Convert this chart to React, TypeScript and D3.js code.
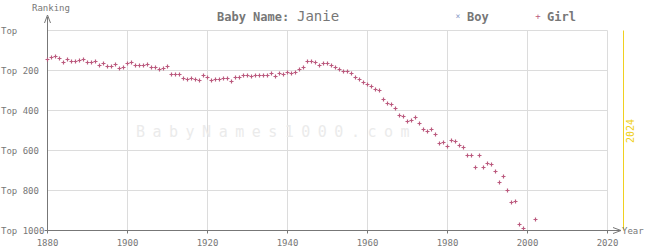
import React from "react";
import * as d3 from "d3";

const years: number[] = [
  1880, 1881, 1882, 1883, 1884, 1885, 1886, 1887, 1888, 1889,
  1890, 1891, 1892, 1893, 1894, 1895, 1896, 1897, 1898, 1899,
  1900, 1901, 1902, 1903, 1904, 1905, 1906, 1907, 1908, 1909,
  1910, 1911, 1912, 1913, 1914, 1915, 1916, 1917, 1918, 1919,
  1920, 1921, 1922, 1923, 1924, 1925, 1926, 1927, 1928, 1929,
  1930, 1931, 1932, 1933, 1934, 1935, 1936, 1937, 1938, 1939,
  1940, 1941, 1942, 1943, 1944, 1945, 1946, 1947, 1948, 1949,
  1950, 1951, 1952, 1953, 1954, 1955, 1956, 1957, 1958, 1959,
  1960, 1961, 1962, 1963, 1964, 1965, 1966, 1967, 1968, 1969,
  1970, 1971, 1972, 1973, 1974, 1975, 1976, 1977, 1978, 1979,
  1980, 1981, 1982, 1983, 1984, 1985, 1986, 1987, 1988, 1989,
  1990, 1991, 1992, 1993, 1994, 1995, 1996, 1997, 1998, 1999,
  2002,
];
const girlRanks: number[] = [
  145, 135, 130, 140, 160, 145, 155, 155, 150, 145,
  160, 160, 155, 175, 165, 180, 180, 170, 190, 185,
  165, 160, 175, 175, 175, 170, 185, 185, 195, 190,
  180, 220, 220, 220, 240, 245, 240, 245, 250, 225,
  235, 250, 245, 245, 240, 240, 255, 235, 235, 225,
  225, 230, 225, 225, 225, 225, 215, 230, 215, 220,
  210, 215, 210, 195, 185, 155, 155, 160, 175, 165,
  165, 175, 185, 195, 205, 205, 215, 235, 245, 260,
  270, 280, 295, 300, 345, 365, 370, 390, 425, 430,
  455, 450, 435, 465, 495, 505, 495, 520, 565, 560,
  580, 550, 555, 575, 585, 625, 625, 685, 625, 685,
  665, 670, 705, 760, 730, 800, 860, 855, 970, 990,
  945,
];
const xTicks: number[] = [1880, 1900, 1920, 1940, 1960, 1980, 2000, 2020];
const yTicks: number[] = [0, 200, 400, 600, 800, 1000];
const yTickLabels: string[] = ["Top", "Top 200", "Top 400", "Top 600", "Top 800", "Top 1000"];
const currentYear = 2024;

const MONO = "'DejaVu Sans Mono', 'Liberation Mono', monospace";
const GREY = "#777";
const GRID = "#dcdcdc";
const PINK = "#bb5a7e";

export default function App() {
  const x = d3.scaleLinear().domain([1880, 2020]).range([47.5, 607.5]);
  const y = d3.scaleLinear().domain([0, 1000]).range([30.5, 230.5]);
  const plus = (cx: number, cy: number, k: number) => (
    <path
      key={k}
      d={`M${cx - 2},${cy}H${cx + 2}M${cx},${cy - 2}V${cy + 2}`}
      stroke={PINK}
      strokeWidth={1.2}
      fill="none"
    />
  );
  return (
    <svg
      width={645}
      height={250}
      style={{ position: "absolute", left: 0, top: 0, background: "#fff" }}
      fontFamily={MONO}
    >
      {xTicks.slice(1).map((t) => (
        <line key={"gx" + t} x1={x(t)} x2={x(t)} y1={y(0)} y2={y(1000)} stroke={GRID} strokeWidth={1} />
      ))}
      {yTicks.slice(0, -1).map((t) => (
        <line key={"gy" + t} x1={x(1880)} x2={x(2020)} y1={y(t)} y2={y(t)} stroke={GRID} strokeWidth={1} />
      ))}
      <text x={136} y={137} fontSize={15} fill="#ebebeb" letterSpacing={7.5} fontFamily={MONO}>
        BabyNames1000.com
      </text>
      <line x1={x(currentYear)} x2={x(currentYear)} y1={y(0)} y2={y(1000)} stroke="#f0d020" strokeWidth={1} />
      <text
        transform={`translate(${x(currentYear) + 10},${131}) rotate(-90)`}
        textAnchor="middle"
        fontSize={10}
        fill="#f0d020"
      >
        {String(currentYear)}
      </text>
      <line x1={x(1880)} x2={x(1880)} y1={17} y2={y(1000)} stroke={GREY} strokeWidth={1} />
      <path d={`M${x(1880) - 3},${23}L${x(1880)},${15}L${x(1880) + 3},${23}`} stroke={GREY} fill="none" />
      <line x1={x(1880)} x2={620} y1={y(1000)} y2={y(1000)} stroke={GREY} strokeWidth={1} />
      <path d={`M${613},${y(1000) - 3}L${621},${y(1000)}L${613},${y(1000) + 3}`} stroke={GREY} fill="none" />
      <text x={32} y={11} fontSize={9} fill={GREY}>Ranking</text>
      <text x={622} y={234} fontSize={9} fill={GREY}>Year</text>
      {yTicks.map((t, i) => (
        <text key={"yt" + t} x={1} y={y(t) + 3} fontSize={9} fill={GREY}>{yTickLabels[i]}</text>
      ))}
      <line x1={x(1880) - 3} x2={x(1880)} y1={y(1000)} y2={y(1000)} stroke={GREY} />
      {xTicks.map((t) => (
        <g key={"xt" + t}>
          <line x1={x(t)} x2={x(t)} y1={y(1000)} y2={y(1000) + 3} stroke={GREY} />
          <text x={x(t)} y={246} fontSize={9} fill={GREY} textAnchor="middle">{t}</text>
        </g>
      ))}
      <text x={217} y={21} fontSize={12} fontWeight="bold" fill={GREY}>Baby Name:</text>
      <text x={297} y={21} fontSize={14} fill={GREY}>Janie</text>
      <text x={458} y={19} fontSize={8} fill="#8a9ac8" textAnchor="middle">×</text>
      <text x={467} y={21} fontSize={12} fontWeight="bold" fill={GREY}>Boy</text>
      <text x={538} y={19} fontSize={9} fill={PINK} textAnchor="middle">+</text>
      <text x={547} y={21} fontSize={12} fontWeight="bold" fill={GREY}>Girl</text>
      {years.map((yr, i) => plus(x(yr), y(girlRanks[i]), i))}
    </svg>
  );
}
